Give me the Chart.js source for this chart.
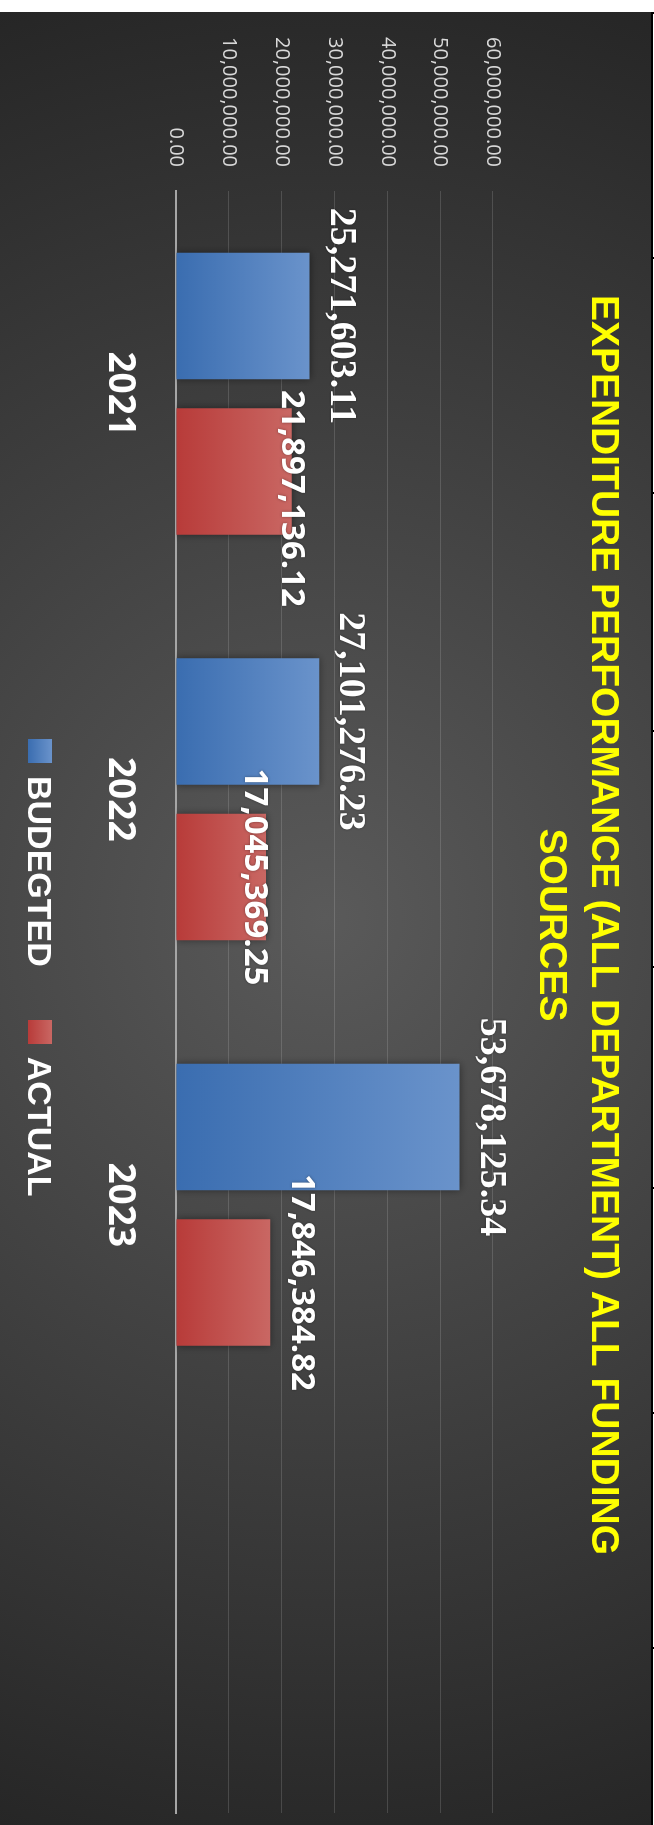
<!DOCTYPE html>
<html>
<head>
<meta charset="utf-8">
<script src="https://cdn.jsdelivr.net/npm/chart.js@4.4.1/dist/chart.umd.min.js"></script>
<style>
    html, body { margin: 0; padding: 0; background: #fff; width: 654px; height: 1825px; overflow: hidden; }
    #wrap {
        position: absolute; left: 0; top: 12px; width: 1813px; height: 651px;
        transform-origin: 0 0; transform: translate(651px, 0) rotate(90deg);
        background: radial-gradient(circle farthest-corner at 50% 50%, #5a5a5a 0%, #262626 100%);
    }
    #chart { position: absolute; left: 0; top: 0; }
    #legend {
        position: absolute; left: 727px; top: 587px; height: 48px;
        display: flex; align-items: center;
        font: bold 34px "Liberation Sans", sans-serif; color: #fff;
    }
    #legend .item { display: flex; align-items: center; margin-right: 53px; }
    #legend .box { width: 24px; height: 24px; margin-right: 13px; }
    #edge { position: absolute; left: 651px; top: 12px; width: 2px; height: 1813px; background: #000; }
    .tick { position: absolute; left: 651px; width: 3px; height: 2px; background: #000; }
</style>
</head>
<body>
<div id="wrap">
    <canvas id="chart" width="1813" height="651"></canvas>
    <div id="legend"></div>
</div>
<div id="edge"></div>
<script>
const years = ['2021', '2022', '2023', ''];
const budgeted = [25271603.11, 27101276.23, 53678125.34, null];
const actual = [21897136.12, 17045369.25, 17846384.82, null];
const seriesNames = ['BUDEGTED', 'ACTUAL'];
const valueTicks = [0, 10000000, 20000000, 30000000, 40000000, 50000000, 60000000];
const titleLines = ['EXPENDITURE PERFORMANCE (ALL DEPARTMENT) ALL FUNDING', 'SOURCES'];

// colours: [base, tip] of each bar gradient
const seriesColors = [['#3a6db0', '#6a93cb'], ['#b83b39', '#c96763']];

const money = v => v.toLocaleString('en-US', { minimumFractionDigits: 2, maximumFractionDigits: 2 });

function barFill(base, tip) {
    return (c) => {
        const chart = c.chart;
        if (!chart.chartArea || c.raw == null) return base;
        const y = chart.scales.y;
        const g = chart.ctx.createLinearGradient(0, y.getPixelForValue(0), 0, y.getPixelForValue(c.raw));
        g.addColorStop(0, base);
        g.addColorStop(1, tip);
        return g;
    };
}

// soft shadow behind the bars
const barShadow = {
    id: 'barShadow',
    beforeDatasetsDraw(chart) {
        const ctx = chart.ctx;
        ctx.save();
        ctx.shadowColor = 'rgba(0,0,0,0.45)';
        ctx.shadowBlur = 8;
    },
    afterDatasetsDraw(chart) {
        chart.ctx.restore();
    }
};

// value labels above the bars
const valueLabels = {
    id: 'valueLabels',
    afterDatasetsDraw(chart, args, opts) {
        const ctx = chart.ctx;
        chart.data.datasets.forEach((ds, i) => {
            const meta = chart.getDatasetMeta(i);
            meta.data.forEach((bar, j) => {
                const v = ds.data[j];
                if (v == null) return;
                const nudge = (opts.nudge[i] && opts.nudge[i][j]) || [0, 0];
                ctx.save();
                ctx.font = opts.fonts[i];
                ctx.fillStyle = '#fff';
                ctx.textAlign = 'center';
                ctx.textBaseline = 'middle';
                ctx.shadowColor = 'rgba(0,0,0,0.4)';
                ctx.shadowBlur = 3;
                ctx.fillText(money(v), bar.x + nudge[0], bar.y - opts.offset + nudge[1]);
                ctx.restore();
            });
        });
    }
};

const chart = new Chart(document.getElementById('chart'), {
    type: 'bar',
    data: {
        labels: years,
        datasets: [
            { label: seriesNames[0], data: budgeted, backgroundColor: barFill(seriesColors[0][0], seriesColors[0][1]) },
            { label: seriesNames[1], data: actual, backgroundColor: barFill(seriesColors[1][0], seriesColors[1][1]) }
        ]
    },
    options: {
        responsive: false,
        animation: false,
        categoryPercentage: 0.767,
        barPercentage: 0.8135,
        layout: { padding: { left: 25, right: 12, top: 0, bottom: 0 } },
        scales: {
            x: {
                grid: { display: false },
                border: { display: true, color: '#a6a6a6', width: 2 },
                ticks: { color: '#fff', padding: 26, font: { family: 'Open Sans', size: 37, weight: 'bold' } },
                afterFit: s => { s.height = 176; }
            },
            y: {
                min: 0,
                max: 60000000,
                afterBuildTicks: s => { s.ticks = valueTicks.map(v => ({ value: v })); },
                grid: { color: 'rgba(230,230,230,0.16)', lineWidth: 1, drawTicks: false },
                border: { display: false },
                ticks: {
                    color: '#d9d9d9', padding: 24,
                    font: { family: 'Open Sans', size: 20 },
                    callback: v => money(v)
                },
                afterFit: s => { s.width = 154; }
            }
        },
        plugins: {
            legend: { display: false },
            tooltip: { enabled: false },
            title: {
                display: true,
                text: titleLines,
                color: '#ffff00',
                font: { family: 'Liberation Sans', size: 39, weight: 'bold', lineHeight: 52 / 39 },
                padding: { top: 22, bottom: 32 }
            },
            valueLabels: {
                offset: 31,
                fonts: ['bold 38px "Liberation Serif", "Times New Roman", serif', 'bold 33px "Open Sans"'],
                nudge: [[], [[27, 31], [0, 43]]]
            }
        }
    },
    plugins: [barShadow, valueLabels]
});

// legend built from the chart's own datasets
const legend = document.getElementById('legend');
chart.data.datasets.forEach((ds, i) => {
    const item = document.createElement('div');
    item.className = 'item';
    item.innerHTML = `<span class="box" style="background:linear-gradient(to top, ${seriesColors[i][0]}, ${seriesColors[i][1]})"></span><span>${ds.label}</span>`;
    legend.appendChild(item);
});

// small marks on the right frame line
[12, 257, 492, 730, 966, 1187, 1412, 1647].forEach(y => {
    const t = document.createElement('div');
    t.className = 'tick';
    t.style.top = y + 'px';
    document.body.appendChild(t);
});
</script>
</body>
</html>
